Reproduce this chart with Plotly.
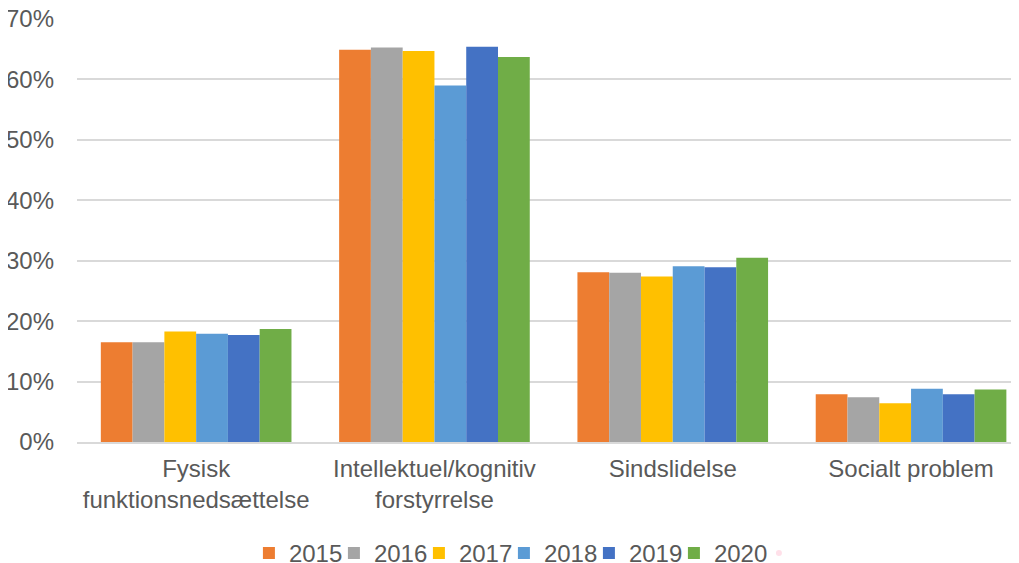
import plotly.graph_objects as go

categories = ["Fysisk<br>funktionsnedsættelse", "Intellektuel/kognitiv<br>forstyrrelse",
              "Sindslidelse", "Socialt problem"]
years = ["2015", "2016", "2017", "2018", "2019", "2020"]
values = {
    "2015": [16.5, 64.9, 28.1, 7.9],
    "2016": [16.5, 65.3, 28.0, 7.4],
    "2017": [18.3, 64.7, 27.4, 6.4],
    "2018": [17.9, 59.0, 29.1, 8.8],
    "2019": [17.7, 65.4, 28.9, 7.9],
    "2020": [18.7, 63.7, 30.5, 8.7],
}
colors = ["#ED7D31", "#A5A5A5", "#FFC000", "#5B9BD5", "#4472C4", "#70AD47"]

fig = go.Figure()
for yr, col in zip(years, colors):
    fig.add_trace(go.Bar(x=categories, y=values[yr], name=yr, marker_color=col,
                         marker_line_width=0))
# empty legend slot so the last label is not clipped by the fixed entry width
fig.add_trace(go.Scatter(x=[None], y=[None], mode="markers", name=" ",
                         marker=dict(opacity=0), hoverinfo="skip"))

# page body has an 8px margin -> offsets shifted by 8px; figure is tall enough
# that the legend does not push the bottom margin; x range cut short on the right
fig.update_layout(
    width=1011, height=571,
    margin=dict(l=69, r=0, t=11, b=136.5),
    paper_bgcolor="white", plot_bgcolor="white",
    barmode="group", bargap=0.2, bargroupgap=0,
    font=dict(family="Liberation Sans, Arial", size=24, color="#595959"),
    legend=dict(orientation="h", x=0.1825, xanchor="left", y=-0.21, yanchor="top",
                font=dict(size=24), itemwidth=30, traceorder="normal",
                entrywidth=40, entrywidthmode="pixels"),
    showlegend=True,
)
fig.update_yaxes(range=[0, 70], dtick=10, ticksuffix="%", showgrid=True,
                 gridcolor="#D9D9D9", gridwidth=1.5, zeroline=False,
                 showline=False, ticks="", ticklabelstandoff=22, automargin=False,
                 ticklabeloverflow="allow")
fig.update_xaxes(range=[-0.5, 3.453], showline=True, linecolor="#D9D9D9",
                 linewidth=1.5, ticks="", showgrid=False, automargin=False,
                 ticklabelstandoff=4)
fig.write_html("out.html")
